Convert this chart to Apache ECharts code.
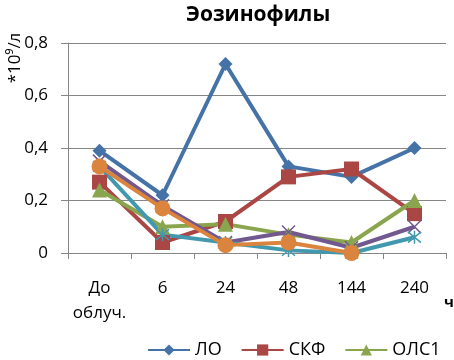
<!DOCTYPE html>
<html><head><meta charset="utf-8">
<script src="https://cdn.jsdelivr.net/npm/echarts@6/dist/echarts.min.js"></script>
<style>html,body{margin:0;padding:0;background:#fff}#c{width:454px;height:360px}</style>
</head><body><div id="c"></div>
<script>
var categories = ['До\nоблуч.', '6', '24', '48', '144', '240'];
var seriesNames = ['ЛО', 'СКФ', 'ОЛС1', 'ОЛС2', 'ОЛС3', 'ОЛС4'];
var valuesLO   = [0.39, 0.22, 0.72, 0.33, 0.29, 0.40];
var valuesSKF  = [0.27, 0.04, 0.12, 0.29, 0.32, 0.15];
var valuesOLS1 = [0.24, 0.10, 0.11, 0.07, 0.04, 0.20];
var valuesOLS2 = [0.35, 0.18, 0.04, 0.08, 0.02, 0.10];
var valuesOLS3 = [0.33, 0.07, 0.04, 0.01, 0.00, 0.06];
var valuesOLS4 = [0.33, 0.17, 0.03, 0.04, 0.00, null];
var yTicks = [0, 0.2, 0.4, 0.6, 0.8];
var legendShown = ['ЛО', 'СКФ', 'ОЛС1'];

var colors = ['#4572A7', '#AA4643', '#89A54E', '#71588F', '#4198AF', '#DB843D'];
var symbols = ['diamond', 'rect', 'triangle',
  'path://M0,0L10,10M10,0L0,10',
  'path://M0,0L10,10M10,0L0,10M5,-1L5,11',
  'circle'];
var sizes = [14, 15, 15, 13, 13, 16];
var allValues = [valuesLO, valuesSKF, valuesOLS1, valuesOLS2, valuesOLS3, valuesOLS4];
var FONT = '"Open Sans", sans-serif';

var chart = echarts.init(document.getElementById('c'));
var series = allValues.map(function (vals, i) {
  var isStroke = i === 3 || i === 4;
  return {
    name: seriesNames[i], type: 'line', data: vals,
    symbol: symbols[i], symbolSize: sizes[i], showAllSymbol: true,
    lineStyle: {color: colors[i], width: 4},
    itemStyle: isStroke ? {color: 'rgba(0,0,0,0)', borderColor: colors[i], borderWidth: 1.5} : {color: colors[i], borderWidth: 0},
    emphasis: {disabled: true},
    animation: false
  };
});
chart.setOption({
  animation: false,
  color: colors,
  title: {text: 'Эозинофилы', left: 181, top: 0,
    textStyle: {fontFamily: FONT, fontSize: 21, fontWeight: 'bold', color: '#000'}},
  grid: {left: 68, right: 8, top: 43, bottom: 107},
  legend: {data: legendShown, left: 142, top: 336, width: 600, itemWidth: 42, itemHeight: 14, itemGap: 19,
    textStyle: {fontFamily: FONT, fontSize: 18, color: '#000'}},
  xAxis: {type: 'category', data: categories, boundaryGap: true,
    axisLine: {lineStyle: {color: '#868686', width: 1}},
    axisTick: {show: true, length: 6, lineStyle: {color: '#868686'}},
    axisLabel: {fontFamily: FONT, fontSize: 17, color: '#000', margin: 23, lineHeight: 25, interval: 0}},
  yAxis: {type: 'value', min: yTicks[0], max: yTicks[yTicks.length - 1], interval: 0.2,
    axisLine: {show: true, lineStyle: {color: '#868686', width: 1}},
    axisTick: {show: true, length: 7, lineStyle: {color: '#868686'}},
    splitLine: {lineStyle: {color: '#868686', width: 1}},
    axisLabel: {fontFamily: FONT, fontSize: 17, color: '#000', margin: 20,
      formatter: function (v) { return String(+v.toFixed(1)).replace('.', ','); }}},
  graphic: [
    {type: 'text', x: 15, y: 58, rotation: Math.PI / 2,
      style: {text: '*10⁹/л', fontFamily: FONT, fontSize: 17, fill: '#000', textAlign: 'center', textVerticalAlign: 'middle'}},
    {type: 'text', x: 449, y: 303,
      style: {text: 'ч', fontFamily: FONT, fontSize: 15, fontWeight: 'bold', fill: '#000', textAlign: 'center', textVerticalAlign: 'middle'}}
  ],
  series: series
});
</script></body></html>
